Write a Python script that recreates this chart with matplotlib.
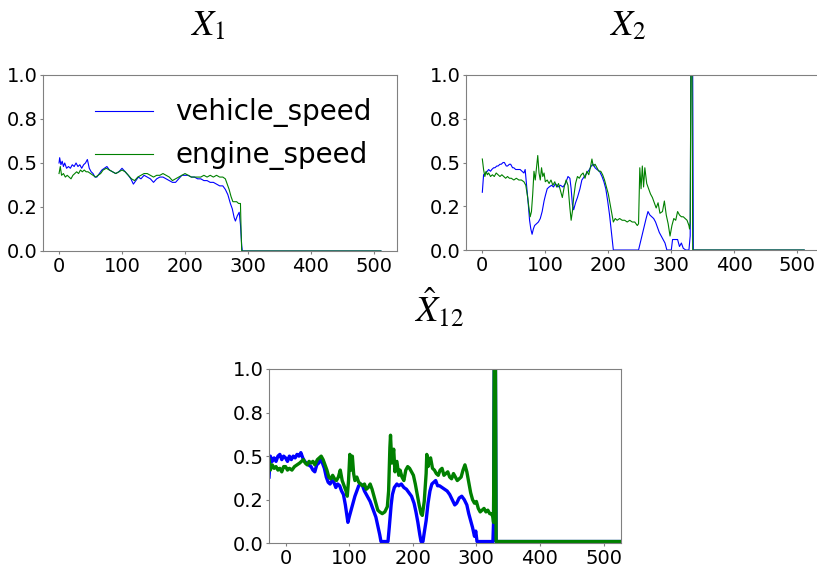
import numpy as np
import matplotlib
matplotlib.use("Agg")
import matplotlib.pyplot as plt
from matplotlib.ticker import FormatStrFormatter

plt.rcParams['mathtext.fontset'] = 'stix'

# (time step, normalised value)
x1_vehicle = [(0, 0.50), (1, 0.53), (3, 0.49), (5, 0.51), (7, 0.48), (9, 0.50), (12, 0.47), (15, 0.48),
              (18, 0.47), (21, 0.49), (24, 0.48), (27, 0.50), (30, 0.48), (33, 0.49), (36, 0.47), (39, 0.49),
              (42, 0.50), (45, 0.52), (48, 0.47), (51, 0.45), (54, 0.44), (57, 0.42), (60, 0.42), (64, 0.44),
              (68, 0.46), (72, 0.47), (76, 0.48), (80, 0.46), (85, 0.45), (90, 0.44), (95, 0.45), (100, 0.47),
              (105, 0.45), (110, 0.43), (114, 0.41), (118, 0.38), (122, 0.40), (126, 0.42), (130, 0.41),
              (135, 0.43), (140, 0.42), (145, 0.41), (150, 0.39), (155, 0.41), (160, 0.42), (165, 0.42),
              (170, 0.41), (175, 0.40), (180, 0.39), (185, 0.39), (190, 0.41), (195, 0.43), (200, 0.43),
              (205, 0.43), (210, 0.42), (215, 0.42), (220, 0.41), (225, 0.41), (230, 0.40), (235, 0.40),
              (240, 0.39), (245, 0.39), (250, 0.38), (255, 0.37), (260, 0.37), (264, 0.35), (268, 0.32),
              (272, 0.27), (275, 0.24), (278, 0.19), (280, 0.17), (283, 0.20), (286, 0.22), (288, 0.15),
              (290, 0.03), (291, 0.0), (511, 0.0)]
x1_engine = [(0, 0.44), (2, 0.48), (4, 0.43), (7, 0.44), (10, 0.42), (13, 0.43), (16, 0.42), (19, 0.41),
             (22, 0.43), (25, 0.44), (28, 0.45), (31, 0.44), (34, 0.46), (37, 0.45), (40, 0.46), (43, 0.45),
             (46, 0.45), (50, 0.44), (54, 0.43), (58, 0.42), (62, 0.43), (66, 0.44), (70, 0.46), (75, 0.47),
             (80, 0.46), (85, 0.45), (90, 0.44), (95, 0.45), (100, 0.46), (105, 0.45), (110, 0.43), (115, 0.41),
             (120, 0.40), (125, 0.42), (130, 0.43), (135, 0.44), (140, 0.44), (145, 0.43), (150, 0.42),
             (155, 0.43), (160, 0.43), (165, 0.44), (170, 0.43), (175, 0.42), (180, 0.40), (185, 0.41),
             (190, 0.42), (195, 0.43), (200, 0.44), (205, 0.43), (210, 0.42), (215, 0.42), (220, 0.42),
             (225, 0.42), (230, 0.43), (235, 0.42), (240, 0.43), (245, 0.42), (250, 0.43), (255, 0.42),
             (260, 0.42), (264, 0.41), (267, 0.38), (270, 0.35), (273, 0.31), (276, 0.28), (279, 0.28),
             (282, 0.28), (285, 0.27), (288, 0.27), (289, 0.12), (290, 0.0), (511, 0.0)]

x2_vehicle = [(0, 0.33), (2, 0.43), (5, 0.44), (8, 0.45), (10, 0.46), (13, 0.45), (15, 0.46), (18, 0.47),
              (20, 0.47), (23, 0.48), (25, 0.48), (28, 0.49), (30, 0.49), (33, 0.50), (35, 0.50), (38, 0.48),
              (40, 0.48), (43, 0.49), (45, 0.49), (48, 0.47), (50, 0.47), (53, 0.46), (55, 0.46), (58, 0.46),
              (60, 0.46), (63, 0.45), (66, 0.44), (68, 0.46), (70, 0.38), (73, 0.26), (75, 0.17), (77, 0.12),
              (79, 0.09), (81, 0.12), (83, 0.14), (86, 0.15), (89, 0.16), (92, 0.18), (95, 0.22), (98, 0.28),
              (100, 0.31), (103, 0.35), (106, 0.36), (110, 0.37), (113, 0.36), (116, 0.38), (120, 0.36),
              (124, 0.37), (128, 0.36), (132, 0.38), (136, 0.42), (139, 0.41), (141, 0.35), (143, 0.26),
              (145, 0.23), (148, 0.27), (151, 0.30), (155, 0.35), (158, 0.40), (162, 0.42), (166, 0.44),
              (170, 0.46), (173, 0.48), (176, 0.49), (179, 0.47), (182, 0.46), (186, 0.45), (190, 0.42),
              (193, 0.39), (196, 0.35), (199, 0.28), (202, 0.20), (205, 0.10), (208, 0.0), (248, 0.0),
              (252, 0.06), (256, 0.12), (260, 0.18), (263, 0.22), (266, 0.20), (269, 0.19), (272, 0.18),
              (275, 0.16), (278, 0.13), (281, 0.10), (284, 0.08), (287, 0.06), (290, 0.04), (293, 0.0),
              (300, 0.0), (302, 0.06), (306, 0.06), (310, 0.06), (313, 0.02), (316, 0.04), (319, 0.01),
              (323, 0.0), (328, 0.0), (330, 0.08), (331, 1.0), (334, 1.0), (335, 0.0), (511, 0.0)]
x2_engine = [(0, 0.52), (2, 0.46), (4, 0.42), (6, 0.45), (8, 0.43), (10, 0.44), (13, 0.42), (16, 0.43),
             (19, 0.42), (22, 0.44), (25, 0.43), (28, 0.42), (31, 0.43), (34, 0.42), (37, 0.41), (40, 0.42),
             (43, 0.41), (46, 0.41), (50, 0.40), (54, 0.41), (58, 0.40), (62, 0.40), (66, 0.39), (69, 0.37),
             (72, 0.30), (74, 0.24), (76, 0.19), (78, 0.22), (80, 0.32), (82, 0.45), (84, 0.40), (86, 0.47),
             (88, 0.54), (90, 0.44), (92, 0.40), (94, 0.47), (96, 0.42), (98, 0.44), (100, 0.39), (103, 0.40),
             (106, 0.38), (109, 0.40), (112, 0.37), (115, 0.39), (118, 0.36), (121, 0.38), (124, 0.34),
             (127, 0.30), (130, 0.36), (133, 0.40), (136, 0.37), (139, 0.24), (141, 0.17), (143, 0.22),
             (145, 0.30), (148, 0.38), (151, 0.42), (154, 0.41), (157, 0.43), (160, 0.44), (163, 0.41),
             (166, 0.45), (169, 0.43), (172, 0.48), (174, 0.52), (176, 0.48), (179, 0.49), (182, 0.47),
             (185, 0.45), (188, 0.45), (191, 0.43), (194, 0.40), (197, 0.36), (200, 0.32), (203, 0.26),
             (206, 0.20), (208, 0.16), (211, 0.18), (214, 0.17), (218, 0.18), (222, 0.17), (226, 0.17),
             (230, 0.16), (234, 0.17), (238, 0.16), (242, 0.16), (246, 0.14), (248, 0.15), (250, 0.47),
             (252, 0.35), (254, 0.48), (256, 0.36), (258, 0.47), (261, 0.38), (264, 0.35), (267, 0.32),
             (270, 0.30), (273, 0.27), (276, 0.24), (279, 0.27), (282, 0.21), (286, 0.22), (289, 0.28),
             (292, 0.20), (295, 0.15), (298, 0.08), (301, 0.14), (304, 0.18), (307, 0.17), (310, 0.22),
             (313, 0.20), (316, 0.19), (319, 0.19), (322, 0.18), (325, 0.17), (328, 0.14), (329, 0.12),
             (330, 0.16), (331, 1.0), (333, 1.0), (334, 0.0), (511, 0.0)]

x12_vehicle = [(-26, 0.38), (-24, 0.50), (-21, 0.47), (-18, 0.49), (-15, 0.47), (-12, 0.50), (-9, 0.51),
               (-6, 0.48), (-3, 0.50), (0, 0.49), (3, 0.47), (6, 0.50), (9, 0.48), (12, 0.50), (15, 0.49),
               (18, 0.51), (21, 0.50), (24, 0.52), (27, 0.49), (30, 0.47), (33, 0.46), (36, 0.45), (40, 0.44),
               (43, 0.42), (46, 0.41), (49, 0.45), (52, 0.46), (55, 0.48), (58, 0.46), (61, 0.43), (64, 0.38),
               (67, 0.35), (70, 0.34), (73, 0.36), (76, 0.35), (79, 0.32), (82, 0.34), (85, 0.33), (88, 0.30),
               (91, 0.28), (94, 0.22), (96, 0.17), (98, 0.12), (100, 0.15), (103, 0.19), (106, 0.23),
               (109, 0.27), (112, 0.30), (115, 0.33), (118, 0.34), (121, 0.33), (124, 0.30), (127, 0.28),
               (130, 0.26), (133, 0.24), (136, 0.21), (139, 0.18), (142, 0.15), (145, 0.10), (148, 0.05),
               (150, 0.01), (161, 0.01), (163, 0.09), (166, 0.22), (168, 0.28), (171, 0.32), (175, 0.34),
               (178, 0.33), (182, 0.34), (186, 0.32), (190, 0.31), (194, 0.29), (198, 0.27), (202, 0.23),
               (205, 0.18), (208, 0.12), (211, 0.05), (213, 0.01), (216, 0.01), (218, 0.06), (221, 0.13),
               (224, 0.23), (227, 0.30), (230, 0.34), (233, 0.35), (236, 0.36), (239, 0.33), (242, 0.33),
               (246, 0.32), (250, 0.31), (254, 0.30), (258, 0.28), (262, 0.25), (266, 0.22), (269, 0.23),
               (273, 0.26), (277, 0.27), (281, 0.25), (285, 0.22), (288, 0.17), (291, 0.13), (294, 0.09),
               (297, 0.04), (299, 0.07), (301, 0.01), (326, 0.01), (327, 0.12), (328, 1.0), (330, 1.0),
               (331, 0.01), (527, 0.01)]
x12_engine = [(-26, 0.48), (-24, 0.42), (-21, 0.45), (-18, 0.43), (-15, 0.44), (-12, 0.42), (-9, 0.43),
              (-6, 0.41), (-3, 0.44), (0, 0.44), (3, 0.42), (6, 0.43), (10, 0.42), (14, 0.44), (18, 0.45),
              (22, 0.46), (25, 0.47), (28, 0.48), (31, 0.46), (34, 0.45), (37, 0.47), (40, 0.46), (43, 0.47),
              (46, 0.45), (50, 0.48), (53, 0.49), (56, 0.50), (59, 0.48), (62, 0.45), (65, 0.42), (68, 0.38),
              (71, 0.37), (74, 0.39), (77, 0.37), (80, 0.36), (83, 0.38), (86, 0.42), (89, 0.36), (92, 0.33),
              (95, 0.30), (97, 0.27), (99, 0.36), (101, 0.51), (103, 0.42), (105, 0.50), (107, 0.40),
              (109, 0.36), (112, 0.38), (115, 0.35), (118, 0.34), (121, 0.33), (124, 0.34), (127, 0.31),
              (130, 0.32), (133, 0.34), (136, 0.31), (139, 0.27), (142, 0.23), (145, 0.19), (148, 0.18),
              (152, 0.17), (156, 0.18), (160, 0.21), (162, 0.30), (164, 0.55), (165, 0.62), (167, 0.46),
              (170, 0.54), (172, 0.41), (175, 0.47), (178, 0.39), (180, 0.42), (183, 0.38), (186, 0.36),
              (189, 0.42), (192, 0.44), (195, 0.43), (198, 0.41), (201, 0.39), (204, 0.34), (207, 0.28),
              (210, 0.22), (213, 0.17), (215, 0.16), (218, 0.24), (221, 0.40), (222, 0.51), (224, 0.44),
              (226, 0.48), (228, 0.49), (231, 0.43), (234, 0.42), (237, 0.40), (240, 0.39), (243, 0.42),
              (246, 0.43), (249, 0.39), (252, 0.40), (255, 0.41), (258, 0.38), (261, 0.37), (264, 0.40),
              (267, 0.38), (270, 0.36), (273, 0.37), (276, 0.38), (279, 0.42), (282, 0.45), (285, 0.41),
              (288, 0.35), (291, 0.29), (294, 0.25), (297, 0.23), (300, 0.24), (303, 0.20), (306, 0.18),
              (309, 0.19), (312, 0.20), (315, 0.18), (318, 0.19), (321, 0.17), (324, 0.17), (326, 0.15),
              (327, 0.12), (328, 1.0), (330, 1.0), (331, 0.01), (527, 0.01)]

titles = [r'$X_1$', r'$X_2$', r'$\hat{X}_{12}$']
labels = ['vehicle_speed', 'engine_speed']
yticks = [0, 0.25, 0.5, 0.75, 1.0]
xticks = [0, 100, 200, 300, 400, 500]


def style(ax, xlim):
    ax.set_xlim(*xlim)
    ax.set_ylim(0, 1)
    ax.set_xticks(xticks)
    ax.set_yticks(yticks)
    ax.yaxis.set_major_formatter(FormatStrFormatter('%.1f'))
    ax.tick_params(labelsize=14, color='0.5', length=2.5, pad=1.5)
    for s in ax.spines.values():
        s.set_color('0.5')


def draw(ax, vehicle, engine, lw):
    vx, vy = np.array(vehicle).T
    ex, ey = np.array(engine).T
    ax.plot(vx, vy, color='blue', lw=lw, label=labels[0])
    ax.plot(ex, ey, color='green', lw=lw, label=labels[1])


fig = plt.figure(figsize=(8.17, 5.69), dpi=100)
ax1 = fig.add_axes([0.0526, 0.5589, 0.4333, 0.3093])
ax2 = fig.add_axes([0.5707, 0.5606, 0.4333, 0.3076])
ax3 = fig.add_axes([0.3293, 0.0452, 0.4305, 0.3063])

draw(ax1, x1_vehicle, x1_engine, 0.8)
draw(ax2, x2_vehicle, x2_engine, 0.8)
draw(ax3, x12_vehicle, x12_engine, 2.4)
style(ax1, (-25.5, 536.5))
style(ax2, (-25.5, 536.5))
style(ax3, (-26, 527))

ax1.legend(loc='upper left', bbox_to_anchor=(0.115, 0.93), borderaxespad=0,
           frameon=False, fontsize=20, handlelength=2.1, labelspacing=0.5)

fig.text(208 / 817, 1 - 25 / 569, titles[0], fontsize=26, ha='center', va='center')
fig.text(628 / 817, 1 - 25 / 569, titles[1], fontsize=26, ha='center', va='center')
fig.text(439 / 817, 1 - 308 / 569, titles[2], fontsize=26, ha='center', va='center')

fig.savefig('out.png', dpi=100)
